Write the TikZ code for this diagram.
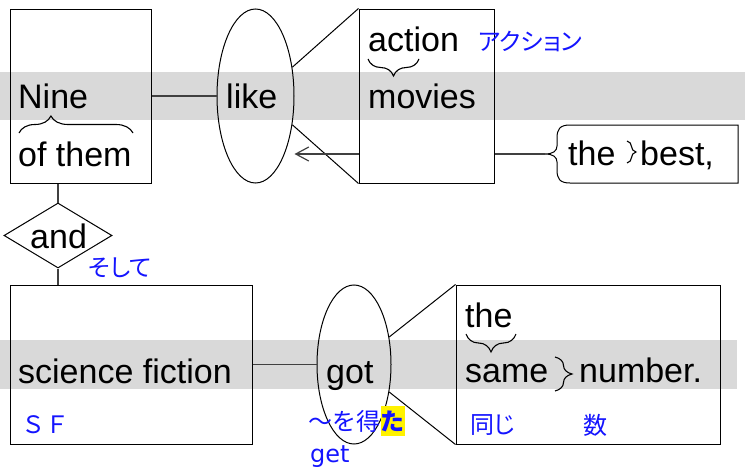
\documentclass[tikz,border=0pt]{standalone}
\usepackage{fontspec}
\setmainfont{Liberation Sans}
\newfontfamily\jpfont{Noto Sans CJK JP}
\newfontfamily\jpprop[RawFeature=+palt]{Noto Sans CJK JP}
\newfontfamily\glosslatin{DejaVu Sans}
\usetikzlibrary{positioning,shapes.geometric,decorations.pathreplacing,arrows.meta}
\definecolor{bandgray}{RGB}{217,217,217}
\definecolor{jpblue}{RGB}{20,20,255}
\begin{document}
\begin{tikzpicture}[x=1pt,y=-1pt,
    box/.style={draw,line width=1pt,inner sep=0pt},
    word/.style={anchor=base west,inner sep=0pt,font=\fontsize{34}{40}\selectfont},
    gloss/.style={anchor=west,inner sep=0pt,text=jpblue,font=\jpprop\fontsize{24}{28}\selectfont},
    link/.style={draw=black!75,line width=1.2pt},
    wedge/.style={line width=1pt},
    curly/.style={decorate,decoration={brace,amplitude=#1},line width=1.1pt}]
  \useasboundingbox (0,0) rectangle (745,471);
  % grey bands
  \fill[bandgray] (0,72) rectangle (745,120);
  \fill[bandgray] (0,340) rectangle (737,389);

  % upper clause
  \node[box,minimum width=141pt,minimum height=174pt] (nine) at (80.5,96) {};
  \node[word] (nineW) at (18,108) {Nine};
  \draw[curly=17pt,decoration={aspect=0.28}] (19,133) -- (133,133);
  \node[word] (themW) at (18,166) {of them};

  \node[box,ellipse,minimum width=77pt,minimum height=174pt] (like) at (255.5,96) {};
  \node[word] (likeW) at (226,108) {like};

  \node[box,minimum width=135pt,minimum height=174pt] (act) at (426.5,96) {};
  \node[word] (actW) at (368,51) {action};
  \draw[curly=17pt] (419,59) -- (368,59);
  \node[word] (movW) at (368,108) {movies};
  \node[gloss] (actJ) at (478,41) {アクション};

  \draw[link] (nine.east) -- (like.west);
  \draw[wedge] (like.38) -- (act.north west);
  \draw[wedge] (like.-38) -- (act.south west);
  \coordinate (lowrow) at (0,154);
  \draw[link,-{Straight Barb[length=13pt,width=14pt]}] (act.west |- lowrow) -- (like.east |- lowrow);

  % the best
  \coordinate (bestTip) at (545,154);
  \draw[box] (738,125) -- (570,125) .. controls (560,125) and (557,129) .. (557,138)
    -- (557,146) .. controls (557,151) and (553,154) .. (bestTip)
    .. controls (553,154) and (557,157) .. (557,162)
    -- (557,170) .. controls (557,179) and (560,183) .. (570,183) -- (738,183) -- cycle;
  \node[word] (theA) at (568,165) {the};
  \draw[curly=9pt] (627,141) -- (627,163);
  \node[word] (bestW) at (640,165) {best,};
  \draw[link] (act.east |- bestTip) -- (bestTip);

  % and
  \node[box,diamond,minimum width=108pt,minimum height=65pt] (and) at (58,235.5) {};
  \node[word] (andW) at (30,248) {and};
  \node[gloss] (andJ) at (88,268) {そして};

  % lower clause
  \node[box,minimum width=242pt,minimum height=159pt] (sf) at (131,364.5) {};
  \node[word] (sfW) at (18,383) {science fiction};
  \node[gloss,font=\jpfont\fontsize{24}{28}\selectfont] (sfJ) at (21,425) {ＳＦ};

  \node[box,ellipse,minimum width=74pt,minimum height=159pt] (got) at (354,364.5) {};
  \node[word] (gotW) at (326,383) {got};
  \node[gloss,font=\jpfont\fontsize{24}{28}\selectfont] (gotJ) at (308,421) {〜を得};
  \node[gloss,font=\jpfont\bfseries\fontsize{24}{28}\selectfont,fill=yellow,inner ysep=4pt,right=0pt of gotJ] (ta) {た};
  \node[gloss,anchor=base west,font=\glosslatin\fontsize{24}{28}\selectfont] (getW) at (310,462) {get};

  \node[box,minimum width=264pt,minimum height=159pt] (same) at (588,364.5) {};
  \node[word] (theB) at (465,327) {the};
  \draw[curly=18pt] (516,334) -- (466,334);
  \node[word] (sameW) at (465,382) {same};
  \draw[curly=17pt] (555,357) -- (555,391);
  \node[word] (numW) at (579,382) {number.};
  \node[gloss] (sameJ) at (470,425) {同じ};
  \node[gloss] (numJ) at (583,425) {数};

  \draw[link] (nine.south -| and.north) -- (and.north);
  \draw[link] (and.south) -- (and.south |- sf.north);
  \draw[link] (sf.east) -- (got.west);
  \draw[wedge] (got.38) -- (same.north west);
  \draw[wedge] (got.-38) -- (same.south west);
\end{tikzpicture}
\end{document}
